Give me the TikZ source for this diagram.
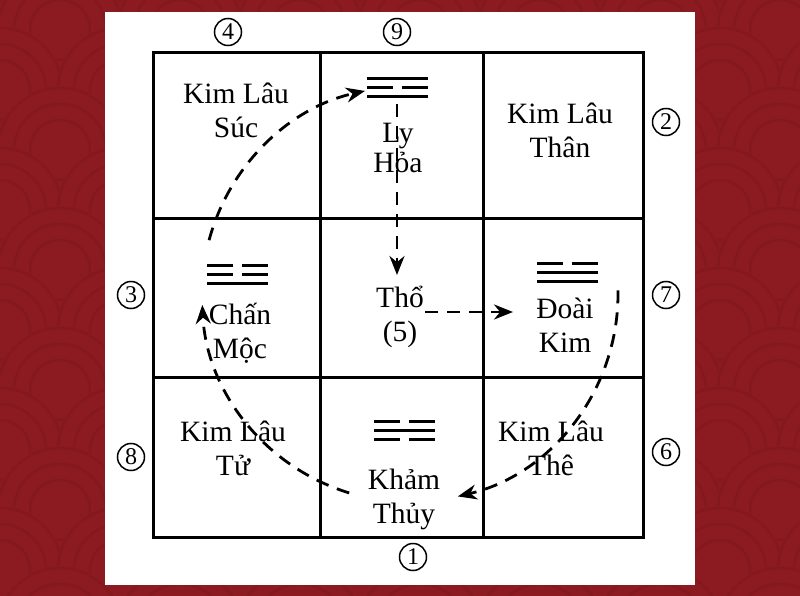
\documentclass[tikz,border=0pt]{standalone}
\usepackage{fontspec}
\setmainfont{Liberation Serif}
\usepackage{xcolor}
\usetikzlibrary{arrows.meta}

\definecolor{bgred}{RGB}{139,27,32}
\definecolor{wavered}{RGB}{131,24,29}

% one line of a trigram: left end x, y, 1 = solid / 0 = broken
\newcommand{\hao}[3]{%
  \ifnum#3=1
    \draw[hao line] (#1,#2) -- ++(61,0);
  \else
    \draw[hao line] (#1,#2) -- ++(26,0);
    \draw[hao line] (#1+35,#2) -- ++(26,0);
  \fi}
% whole trigram, top line first
\newcommand{\quai}[5]{%
  \foreach \k/\t in {0/#3,1/#4,2/#5}{\hao{#1}{#2+9*\k}{\t}}}

\begin{document}
\begin{tikzpicture}[x=1pt,y=-1pt]
  % Styles
  \tikzstyle{grid line}=[line width=3pt];
  \tikzstyle{hao line}=[line width=3pt];
  \tikzstyle{cell text}=[align=center, inner sep=0pt, anchor=base,
    font=\fontsize{29.5}{34}\selectfont];
  \tikzstyle{num}=[draw, circle, line width=1.5pt, inner sep=0pt,
    minimum size=27pt, font=\fontsize{24}{24}\selectfont];
  \tikzstyle{flow}=[line width=2.8pt, dash pattern=on 13pt off 9pt,
    -{Stealth[length=19pt, width=15pt]}];

  \useasboundingbox (0,0) rectangle (800,596);

  % Background with waves
  \begin{scope}
    \clip (0,0) rectangle (800,596);
    \fill[bgred] (0,0) rectangle (800,596);
    \foreach \j in {0,...,11}{
      \foreach \i in {-1,...,7}{
        \pgfmathsetmacro{\cx}{120*\i + 60*mod(\j,2)}
        \pgfmathsetmacro{\cy}{60*\j - 30}
        \fill[bgred] (\cx,\cy) circle (64);
        \foreach \r in {62,46,30}
          \draw[wavered, line width=2.5pt] (\cx,\cy) circle (\r);
      }
    }
  \end{scope}
  \fill[white] (105,12) rectangle (695,585);

  % The nine cells
  \draw[grid line] (153,53) rectangle (643,537);
  \draw[grid line] (320,53) -- (320,537);
  \draw[grid line] (483,53) -- (483,537);
  \draw[grid line] (153,218) -- (643,218);
  \draw[grid line] (153,377) -- (643,377);

  % Trigrams
  \quai{367}{79}{1}{0}{1}   % Ly
  \quai{207}{265}{0}{0}{1}  % Chan
  \quai{537}{263}{0}{1}{1}  % Doai
  \quai{374}{421}{0}{1}{0}  % Kham

  % Circle of flow
  \coordinate (O) at (410,294);
  \draw[flow] (O) ++(-1:208) arc[start angle=-1, end angle=76.7, radius=208];
  \draw[flow] (O) ++(107:208) arc[start angle=107, end angle=177, radius=208];
  \draw[flow] (O) ++(195:208) arc[start angle=195, end angle=257.5, radius=208];

  % From Ly to the centre, then to Doai
  \coordinate (lyFoot) at (397,104);
  \coordinate (thoHead) at (397,275);
  \coordinate (thoSide) at (425,312);
  \coordinate (doaiSide) at (513,312);
  \draw[flow] (lyFoot) -- (thoHead);
  \draw[flow] (thoSide) -- (doaiSide);

  % Cell texts (placed at the baseline of their last line)
  \node[cell text] (suc) at (236,138) {Kim Lâu\\Súc};
  \node[cell text, font=\fontsize{29.5}{30}\selectfont] (ly) at (398,173) {Ly\\Hỏa};
  \node[cell text] (than) at (560,158) {Kim Lâu\\Thân};
  \node[cell text] (chan) at (240,358) {Chấn\\Mộc};
  \node[cell text] (tho) at (400,341) {Thổ\\(5)};
  \node[cell text] (doai) at (565,352) {Đoài\\Kim};
  \node[cell text] (tu) at (233,475) {Kim Lâu\\Tử};
  \node[cell text] (kham) at (404,523) {Khảm\\Thủy};
  \node[cell text] (the) at (551,475) {Kim Lâu\\Thê};

  % Numbers round the square
  \node[num] (n4) at (228,32) {4};
  \node[num] (n9) at (397,32) {9};
  \node[num] (n2) at (666,122) {2};
  \node[num] (n7) at (666,295) {7};
  \node[num] (n6) at (666,452) {6};
  \node[num] (n1) at (413,557) {1};
  \node[num] (n3) at (131,295) {3};
  \node[num] (n8) at (131,457) {8};
\end{tikzpicture}
\end{document}
